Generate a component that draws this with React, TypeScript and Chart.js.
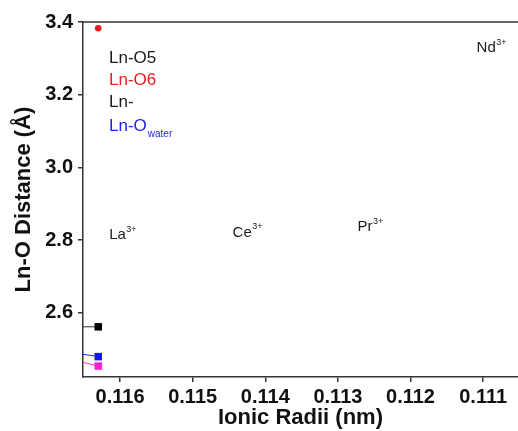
import React, { useEffect, useRef } from "react";
import { Chart, registerables } from "chart.js";

Chart.register(...registerables);

const FONT = '"Liberation Sans", Arial, sans-serif';

// x values (ionic radii, nm); first entry lies outside the visible range (clipped)
const xPrev = 0.1172;
const xLa = 0.1163;

const lnO5Values = [2.562, 2.562];
const lnO6Values = [3.383];
const lnOwaterValues = [2.508, 2.48];
const lnOpinkValues = [2.498, 2.454];

const xTicks = [0.116, 0.115, 0.114, 0.113, 0.112, 0.111];
const yTicks = [2.6, 2.8, 3.0, 3.2, 3.4];

const ionNames = ["La", "Ce", "Pr", "Nd"];
const ionX = [0.11615, 0.11445, 0.11273, 0.11109];
const ionY = [2.814, 2.82, 2.836, 3.328];

const legendTexts = ["Ln-O5", "Ln-O6", "Ln-", "Ln-O"];
const legendColors = ["#1a1a1a", "#ee1c1c", "#1a1a1a", "#2323e0"];

const textPlugin = {
  id: "texts",
  afterDraw(chart: any) {
    const ctx = chart.ctx;
    const { left, top, right } = chart.chartArea;
    ctx.save();
    // top frame line
    ctx.strokeStyle = "#333";
    ctx.lineWidth = 1.5;
    ctx.beginPath();
    ctx.moveTo(left, top);
    ctx.lineTo(right + 2, top);
    ctx.stroke();

    // legend-like labels
    ctx.textBaseline = "middle";
    ctx.textAlign = "left";
    const ly = [36, 58, 80, 104];
    legendTexts.forEach((t, i) => {
      ctx.font = `17px ${FONT}`;
      ctx.fillStyle = legendColors[i];
      const lx = left + 26;
      ctx.fillText(t, lx, top + ly[i]);
      if (i === 3) {
        const w = ctx.measureText(t).width;
        ctx.font = `10px ${FONT}`;
        ctx.fillText("water", lx + w + 1, top + ly[i] + 8);
      }
    });

    // ion labels
    const xs = chart.scales.x;
    const ys = chart.scales.y;
    ionNames.forEach((n, i) => {
      const px = xs.getPixelForValue(ionX[i]);
      const py = ys.getPixelForValue(ionY[i]);
      ctx.fillStyle = "#1a1a1a";
      ctx.font = `15px ${FONT}`;
      ctx.fillText(n, px, py);
      const w = ctx.measureText(n).width;
      ctx.font = `9px ${FONT}`;
      ctx.fillText("3+", px + w + 0.5, py - 6);
    });
    ctx.restore();
  },
};

export default function App() {
  const ref = useRef<HTMLCanvasElement>(null);
  useEffect(() => {
    if (!ref.current) return;
    const chart = new Chart(ref.current, {
      type: "scatter",
      data: {
        datasets: [
          {
            label: "Ln-O5",
            data: [xPrev, xLa].map((x, i) => ({ x, y: lnO5Values[i] })),
            showLine: true,
            borderColor: "#333",
            backgroundColor: "#000",
            borderWidth: 1,
            pointStyle: "rect",
            pointRadius: 5.3,
            pointBorderWidth: 0,
          },
          {
            label: "Ln-O6",
            data: [xLa].map((x, i) => ({ x, y: lnO6Values[i] })),
            borderColor: "#ee1c1c",
            backgroundColor: "#ee1c1c",
            pointStyle: "circle",
            pointRadius: 3.3,
            pointBorderWidth: 0,
          },
          {
            label: "Ln-Owater",
            data: [xPrev, xLa].map((x, i) => ({ x, y: lnOwaterValues[i] })),
            showLine: true,
            borderColor: "#2020ff",
            backgroundColor: "#1515f0",
            borderWidth: 1,
            pointStyle: "rect",
            pointRadius: 5.3,
            pointBorderWidth: 0,
          },
          {
            label: "Ln-O",
            data: [xPrev, xLa].map((x, i) => ({ x, y: lnOpinkValues[i] })),
            showLine: true,
            borderColor: "#ff30c8",
            backgroundColor: "#ff20d0",
            borderWidth: 1,
            pointStyle: "rect",
            pointRadius: 5.3,
            pointBorderWidth: 0,
          },
        ],
      },
      options: {
        animation: false,
        responsive: false,
        devicePixelRatio: 1,
        layout: { autoPadding: false, padding: { top: 22, right: 0, left: 0, bottom: 0 } },
        plugins: { legend: { display: false }, tooltip: { enabled: false } },
        scales: {
          x: {
            type: "linear",
            reverse: true,
            min: 0.11052,
            max: 0.11651,
            afterFit: (s: any) => {
              s.height = 54;
              s.paddingLeft = 0;
              s.paddingRight = 0;
            },
            afterBuildTicks: (s: any) => {
              s.ticks = xTicks.map((v) => ({ value: v }));
            },
            grid: {
              drawOnChartArea: false,
              drawTicks: true,
              tickLength: 5,
              color: "#333",
              lineWidth: 1.5,
            },
            border: { display: true, color: "#333", width: 1.5 },
            ticks: {
              color: "#111",
              font: { family: FONT, size: 20, weight: "bold" },
              padding: 3,
              maxRotation: 0,
              callback: (v: any) => Number(v).toFixed(3),
            },
            title: {
              display: true,
              text: "Ionic Radii (nm)",
              color: "#111",
              font: { family: FONT, size: 22, weight: "bold" },
              padding: { top: 0, bottom: 0 },
            },
          },
          y: {
            type: "linear",
            min: 2.424,
            max: 3.4,
            afterFit: (s: any) => {
              s.width = 83;
              s.paddingTop = 0;
              s.paddingBottom = 0;
            },
            afterBuildTicks: (s: any) => {
              s.ticks = yTicks.map((v) => ({ value: v }));
            },
            grid: {
              drawOnChartArea: false,
              drawTicks: true,
              tickLength: 5,
              color: "#333",
              lineWidth: 1.5,
            },
            border: { display: true, color: "#333", width: 1.5 },
            ticks: {
              color: "#111",
              font: { family: FONT, size: 20, weight: "bold" },
              padding: 5,
              callback: (v: any) => Number(v).toFixed(1),
            },
            title: {
              display: true,
              text: "Ln-O Distance (Å)",
              color: "#111",
              font: { family: FONT, size: 22, weight: "bold" },
              padding: { top: 11, bottom: 0 },
            },
          },
        },
      },
      plugins: [textPlugin],
    });
    return () => chart.destroy();
  }, []);
  return (
    <div style={{ position: "absolute", left: 0, top: 0, width: 518, height: 431, background: "#fff" }}>
      <canvas ref={ref} width={518} height={431} />
    </div>
  );
}
